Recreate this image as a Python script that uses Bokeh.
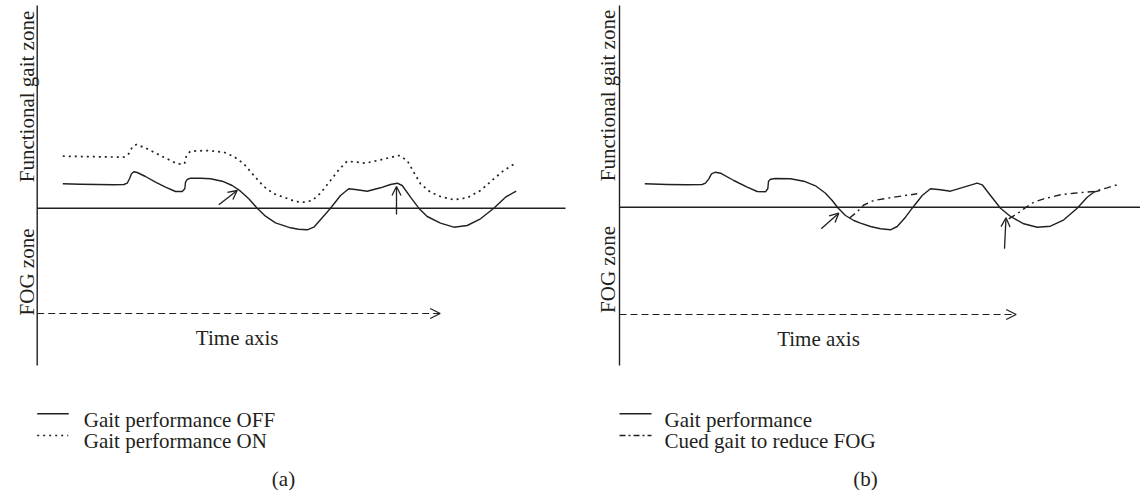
from bokeh.plotting import figure
from bokeh.layouts import row
from bokeh.models import Range1d, ColumnDataSource, Arrow, OpenHead
from bokeh.core.properties import value
from bokeh.embed import file_html
from bokeh.resources import INLINE
import math

# ---------------- data (time units, performance relative to FOG threshold) -------------
# Panel (a)
a_off_t = [25.6, 43.3, 60, 76.6, 86.6, 90, 92.3, 94.3, 96.6, 100, 108.3, 118.3, 128.3, 138.3, 145,
           147.6, 148.3, 150, 153.3, 163.3, 173.3, 185, 195, 203.3, 211.6, 220, 228.3, 238.3, 253.3,
           261.3, 270, 276.6, 285, 293.3, 303.3, 311.6, 320, 330, 343.3, 353.3, 360, 365, 373.3, 381.6,
           390, 403.3, 416.6, 430, 443.3, 456.6, 468.3, 479]
a_off_g = [24.4, 24.0, 23.7, 23.4, 23.7, 25, 29.4, 34.4, 36.4, 35.7, 31.7, 26, 21, 16.7, 16.7,
           19.4, 26, 28.7, 30, 30, 29.4, 27, 22.7, 17, 9.4, 0, -8, -14.6, -19.6,
           -21.1, -21.6, -19, -9.6, 0, 12.7, 19.4, 18.4, 17, 20.4, 23.7, 25, 22.7, 11, 0,
           -8.3, -15, -19, -17.3, -10.6, 0, 11, 17]

a_on_t = [25.6, 86.6, 91.6, 95, 99.3, 110, 126.6, 140, 147.3, 149.3, 153.3, 170, 186.6, 196.6, 206.6,
          216.6, 226.6, 236.6, 246.6, 258.3, 266.6, 275, 283.3, 293.3, 301.6, 310, 320, 328.3, 343.3,
          361.6, 370, 376.6, 383.3, 393.3, 403.3, 416.6, 430, 443.3, 456.6, 466.6, 478.3]
a_on_g = [52, 51, 54.4, 61, 63.7, 59.4, 51, 44.4, 44.4, 52.7, 57, 57.7, 56, 51.7, 44.4,
          32.7, 21.7, 14.4, 11, 6.7, 6, 7.7, 15, 27.7, 38.4, 47, 46, 45, 48.4,
          52.7, 47.7, 36, 24.4, 16, 11.7, 8.4, 10.4, 17.7, 29.4, 37.7, 45]

# Panel (b)
b_gait_t = [25.3, 47.7, 67.7, 82.7, 86, 89.3, 92, 96, 101, 114.3, 127.7, 137.7, 146, 148.3, 149, 151,
            156, 171, 184.3, 196, 206, 212.7, 218.3, 226, 234.3, 241, 251, 261, 271, 277.7, 286,
            292.7, 302.7, 311, 321, 331, 344.3, 357.7, 362.7, 371, 381, 391, 404.3, 417.7, 431,
            444.3, 457.7, 467.7, 474.3, 480.3]
b_gait_g = [23.4, 22.7, 22.4, 22.7, 24, 28.4, 33.4, 35, 34, 26.7, 20, 15.7, 15.4, 18.4, 26, 28,
            28.7, 28.4, 26, 21.4, 14, 6.7, -0.6, -8.3, -13.3, -16, -19.3, -21.6, -22.6, -19.3, -10,
            -1, 11.7, 18.4, 17.4, 16, 20, 24, 22.4, 11.7, -1, -9.3, -16.6, -20, -19,
            -12.6, -1, 10, 15, 16.7]

b_cue1_t = [230, 237, 244.3, 254.3, 274.3, 297.7]
b_cue1_g = [-10.8, -5.3, 2.2, 6.7, 10, 13.4]
b_cue2_t = [389.3, 397.7, 404.3, 414.3, 424.3, 441, 454.3, 474.3, 487.7, 501]
b_cue2_g = [-11.6, -6.6, -1.6, 5, 8.4, 12.4, 14, 15.7, 19.4, 23.4]

# marker arrows (FOG onsets)
a_arr_t0 = [181.6, 359.3]
a_arr_g0 = [3.4, -6.3]
a_arr_t1 = [200, 359.3]
a_arr_g1 = [17.7, 21.7]
b_arr_t0 = [201.7, 385]
b_arr_g0 = [-21.6, -41.6]
b_arr_t1 = [219.3, 386.5]
b_arr_g1 = [-6, -10.6]

# labels
y_label_top = "Functional gait zone"
y_label_bottom = "FOG zone"
x_label = "Time axis"
a_legend = ["Gait performance OFF", "Gait performance ON"]
b_legend = ["Gait performance", "Cued gait to reduce FOG"]
captions = ["(a)", "(b)"]

INK = "#231f20"
FONT = value("Liberation Serif")
FS = "21px"
H = 490


def make_panel(width, xr, yr, base_y_top, time_end, time_g, base_end, ylab_t, ylab_g,
               xlab_t, xlab_g, caption, cap_t, cap_g):
    p = figure(width=width, height=H, x_range=Range1d(*xr), y_range=Range1d(*yr),
               output_backend="svg", toolbar_location=None, min_border=0,
               x_axis_location=None, y_axis_location=None)
    p.grid.visible = False
    p.outline_line_color = None
    p.background_fill_color = "white"
    p.border_fill_color = "white"
    # axes drawn as schematic lines
    p.segment(x0=[0], y0=[base_y_top], x1=[0], y1=[base_y_top - 360], line_color=INK, line_width=1.4)
    p.segment(x0=[0], y0=[0], x1=[base_end], y1=[0], line_color=INK, line_width=1.4)
    # time axis (dashed arrow)
    p.add_layout(Arrow(end=OpenHead(size=10, line_color=INK, line_width=1.2),
                       x_start=0, y_start=time_g, x_end=time_end, y_end=time_g,
                       line_color=INK, line_width=1.2, line_dash="7 4"))
    p.text(x=[ylab_t, ylab_t], y=ylab_g, text=[y_label_top, y_label_bottom], angle=math.pi / 2,
           text_align="center", text_baseline="alphabetic", text_font=FONT,
           text_font_size=FS, text_color=INK)
    p.text(x=[xlab_t], y=[xlab_g], text=[x_label], text_align="center",
           text_baseline="alphabetic", text_font=FONT, text_font_size=FS, text_color=INK)
    p.text(x=[cap_t], y=[cap_g], text=[caption],
           text_align="center", text_baseline="alphabetic", text_font=FONT,
           text_font_size=FS, text_color=INK)
    return p


# ---------------- panel (a) ----------------
pa = make_panel(580, (-36.7, 543.3), (-282.3, 207.7), 202.7, 403, -105.3, 528.3,
                -10, [111.7, -63.8], 200, -129.6, captions[0], 246.3, -270.3)
pa.line(a_off_t, a_off_g, line_color=INK, line_width=1.4, line_join="round")
pa.line(a_on_t, a_on_g, line_color=INK, line_width=1.7, line_dash="2 4")
pa.add_layout(Arrow(end=OpenHead(size=9, line_color=INK, line_width=1.3), line_color=INK,
                    line_width=1.3,
                    source=ColumnDataSource(dict(x0=a_arr_t0, y0=a_arr_g0, x1=a_arr_t1, y1=a_arr_g1)),
                    x_start="x0", y_start="y0", x_end="x1", y_end="y1"))
# legend (a)
pa.segment(x0=[0], y0=[-205.6], x1=[31.6], y1=[-205.6], line_color=INK, line_width=1.4)
pa.segment(x0=[0], y0=[-227.3], x1=[31], y1=[-227.3], line_color=INK, line_width=1.4,
           line_dash="2 4")
pa.text(x=[46.6, 46.6], y=[-211.6, -232.8], text=a_legend, text_baseline="alphabetic",
        text_font=FONT, text_font_size=FS, text_color=INK)

# ---------------- panel (b) ----------------
pb = make_panel(560, (-39, 521), (-283.3, 206.7), 201.7, 396.7, -107.3, 521,
                -11.5, [111.7, -62.3], 199, -131.3, captions[1], 246, -271.3)
pb.line(b_gait_t, b_gait_g, line_color=INK, line_width=1.4, line_join="round")
pb.multi_line([b_cue1_t, b_cue2_t], [b_cue1_g, b_cue2_g], line_color=INK, line_width=1.4,
              line_dash="7 4 2 4")
pb.add_layout(Arrow(end=OpenHead(size=9, line_color=INK, line_width=1.3), line_color=INK,
                    line_width=1.3,
                    source=ColumnDataSource(dict(x0=b_arr_t0, y0=b_arr_g0, x1=b_arr_t1, y1=b_arr_g1)),
                    x_start="x0", y_start="y0", x_end="x1", y_end="y1"))
pb.segment(x0=[0], y0=[-206.6], x1=[32], y1=[-206.6], line_color=INK, line_width=1.4)
pb.segment(x0=[0], y0=[-228.3], x1=[32], y1=[-228.3], line_color=INK, line_width=1.3,
           line_dash="6 3 2 3")
pb.text(x=[45, 45], y=[-212.6, -233.8], text=b_legend, text_baseline="alphabetic",
        text_font=FONT, text_font_size=FS, text_color=INK)

layout = row(pa, pb, spacing=0)
open("out.html", "w").write(file_html(layout, INLINE))
